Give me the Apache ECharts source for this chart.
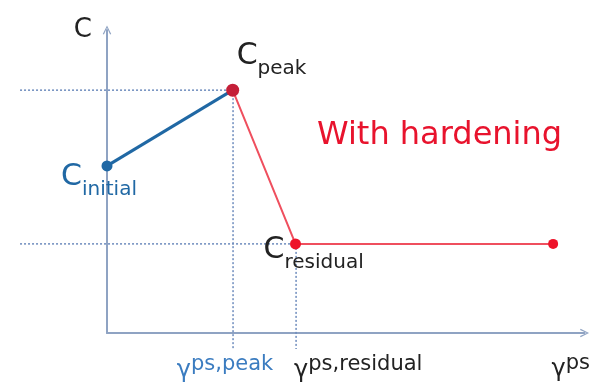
<!DOCTYPE html>
<html>
<head>
<meta charset="utf-8">
<script src="https://cdn.jsdelivr.net/npm/echarts@6/dist/echarts.min.js"></script>
<style>
  html, body { margin: 0; padding: 0; background: #fff; }
  #chart { width: 593px; height: 388px; }
</style>
</head>
<body>
<div id="chart"></div>
<script>
// Cohesion law: cohesion C against plastic shear strain γps
const stateNames = ['initial', 'peak', 'residual', 'end'];
const plasticStrain = [0, 2.0, 3.0, 7.1];
const cohesion = [3.75, 5.45, 2.0, 2.0];
const strainTickNames = ['ps,peak', 'ps,residual'];
const curveTitle = 'With hardening';
const yAxisName = 'C';
const xAxisName = 'ps';

// ---- styling ----
const FONT = 'DejaVu Sans';
const BLUE = '#2068a4';
const RED_LINE = '#ef4f5e';
const RED_DOT = '#ee1229';
const PEAK_DOT = '#c41f38';
const AXIS = '#8fa3c3';
const GUIDE = '#6e8cbd';
const INK = '#222';
const ARROW = 'path://M0,12 L6,0 L12,12 L10.4,12.8 L6,3.2 L1.6,12.8 Z';

// plot area
const GRID_LEFT = 107, GRID_RIGHT = 7, GRID_TOP = 30, GRID_BOTTOM = 55;
const X_MAX = 7.6, Y_MAX = 6.8;
// dotted guides start left of the C axis and drop below the strain axis;
// they live on a second, hidden grid that shares the same scale
const GUIDE_LEFT = -1.38;
const GUIDE_FLOOR = -0.36;
const pxPerX = (593 - GRID_LEFT - GRID_RIGHT) / X_MAX;
const guideGridLeft = GRID_LEFT + GUIDE_LEFT * pxPerX;

const pt = i => [plasticStrain[i], cohesion[i]];

const subRich = (color) => ({
  C: { fontFamily: FONT, fontSize: 30, lineHeight: 30, verticalAlign: 'top', color },
  s: { fontFamily: FONT, fontSize: 20, lineHeight: 20, verticalAlign: 'top', padding: [18, 0, 0, 0], color }
});
const gammaRich = (color) => ({
  g: { fontFamily: FONT, fontSize: 24, lineHeight: 24, verticalAlign: 'top', padding: [5, 0, 0, 0], color },
  s: { fontFamily: FONT, fontSize: 21, lineHeight: 22, verticalAlign: 'top', color }
});

function guide(points) {
  return {
    type: 'line',
    xAxisIndex: 1,
    yAxisIndex: 1,
    data: points,
    clip: false,
    silent: true,
    z: 1,
    symbol: 'circle',
    symbolSize: 0,
    showSymbol: true,
    lineStyle: { color: GUIDE, width: 1.5, type: [2, 2] },
    itemStyle: { color: GUIDE },
    animation: false
  };
}

const peak = 1, residual = 2;

const series = [
  guide([[GUIDE_LEFT, cohesion[peak]], pt(peak)]),
  guide([[GUIDE_LEFT, cohesion[residual]], pt(residual)]),
  guide([pt(peak), {
    value: [plasticStrain[peak], GUIDE_FLOOR],
    label: {
      show: true, position: 'inside', align: 'center', verticalAlign: 'top',
      offset: [-8, 5],
      formatter: '{g|γ}{s|' + strainTickNames[0] + '}',
      rich: gammaRich('#3b7cc0')
    }
  }]),
  guide([pt(residual), {
    value: [plasticStrain[residual], GUIDE_FLOOR],
    label: {
      show: true, position: 'inside', align: 'left', verticalAlign: 'top',
      offset: [-2, 5],
      formatter: '{g|γ}{s|' + strainTickNames[1] + '}',
      rich: gammaRich(INK)
    }
  }]),
  {
    type: 'line',
    z: 3,
    animation: false,
    data: [
      {
        value: pt(0),
        label: {
          show: true, position: 'inside', align: 'left', verticalAlign: 'top',
          offset: [-46, -4],
          formatter: '{C|C}{s|' + stateNames[0] + '}',
          rich: subRich(BLUE)
        }
      },
      pt(peak)
    ],
    symbol: 'circle',
    symbolSize: 11,
    itemStyle: { color: BLUE },
    lineStyle: { color: BLUE, width: 3 }
  },
  {
    type: 'line',
    z: 4,
    animation: false,
    symbol: 'circle',
    symbolSize: 11,
    itemStyle: { color: RED_DOT },
    lineStyle: { color: RED_LINE, width: 2 },
    data: [
      {
        value: pt(peak),
        symbolSize: 13,
        itemStyle: { color: PEAK_DOT },
        label: {
          show: true, position: 'inside', align: 'left', verticalAlign: 'top',
          offset: [4, -49],
          formatter: '{C|C}{s|' + stateNames[peak] + '}',
          rich: subRich(INK)
        }
      },
      {
        value: pt(residual),
        label: {
          show: true, position: 'inside', align: 'left', verticalAlign: 'top',
          offset: [-32, -9],
          formatter: '{C|C}{s|' + stateNames[residual] + '}',
          rich: subRich(INK)
        }
      },
      { value: pt(3), symbolSize: 10 }
    ]
  }
];

const axisCommon = {
  type: 'value',
  axisTick: { show: false },
  axisLabel: { show: false },
  splitLine: { show: false },
  axisLine: {
    show: true,
    onZero: false,
    lineStyle: { color: AXIS, width: 2 },
    symbol: ['none', ARROW],
    symbolSize: [12, 9]
  }
};

const hiddenAxis = {
  type: 'value',
  show: false,
  gridIndex: 1
};

const chart = echarts.init(document.getElementById('chart'), null, { renderer: 'canvas' });
chart.setOption({
  animation: false,
  backgroundColor: '#fff',
  title: {
    text: curveTitle,
    left: 312,
    top: 115,
    textStyle: { fontFamily: FONT, fontSize: 32, fontWeight: 'normal', color: '#e8132d' }
  },
  grid: [
    { left: GRID_LEFT, right: GRID_RIGHT, top: GRID_TOP, bottom: GRID_BOTTOM },
    { left: guideGridLeft, right: GRID_RIGHT, top: GRID_TOP, bottom: GRID_BOTTOM }
  ],
  xAxis: [
    Object.assign({}, axisCommon, {
      min: 0,
      max: X_MAX,
      name: '{g|γ}{s|' + xAxisName + '}',
      nameLocation: 'end',
      nameGap: -33,
      nameTextStyle: {
        align: 'left', verticalAlign: 'top', padding: [20, 0, 0, 0],
        rich: gammaRich(INK)
      }
    }),
    Object.assign({}, hiddenAxis, { min: GUIDE_LEFT, max: X_MAX })
  ],
  yAxis: [
    Object.assign({}, axisCommon, {
      min: 0,
      max: Y_MAX,
      name: yAxisName,
      nameLocation: 'end',
      nameGap: 0,
      nameTextStyle: {
        fontFamily: FONT, fontSize: 26, color: INK,
        align: 'right', verticalAlign: 'middle', padding: [0, 15, 0, 0]
      }
    }),
    Object.assign({}, hiddenAxis, { min: 0, max: Y_MAX })
  ],
  series: series
});
</script>
</body>
</html>
